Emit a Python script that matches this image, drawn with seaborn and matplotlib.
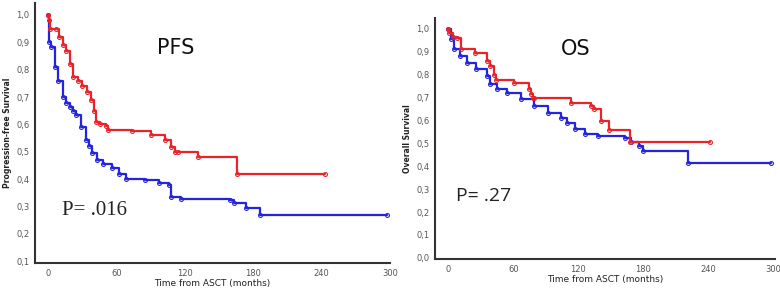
import numpy as np
import pandas as pd
import matplotlib
matplotlib.use("Agg")
import matplotlib.pyplot as plt
import seaborn as sns

# PFS curves (months, survival)
pfs_red_t = [0, 1, 2, 7, 10, 13, 16, 19, 22, 26, 30, 34, 38, 40, 42, 46, 51, 53, 74, 90, 103, 108, 111, 114, 132, 166, 243]
pfs_red_s = [1.0, 0.98, 0.95, 0.95, 0.92, 0.89, 0.87, 0.82, 0.775, 0.76, 0.74, 0.72, 0.69, 0.65, 0.61, 0.60, 0.594, 0.58, 0.575, 0.56, 0.543, 0.518, 0.50, 0.50, 0.482, 0.418, 0.418]
pfs_blue_t = [0, 1, 3, 6, 9, 13, 16, 19, 22, 25, 29, 33, 36, 39, 43, 48, 56, 62, 68, 85, 97, 106, 108, 117, 160, 163, 174, 186, 297]
pfs_blue_s = [1.0, 0.9, 0.884, 0.81, 0.76, 0.70, 0.68, 0.665, 0.65, 0.634, 0.59, 0.543, 0.52, 0.494, 0.47, 0.457, 0.439, 0.42, 0.402, 0.396, 0.387, 0.378, 0.335, 0.326, 0.325, 0.311, 0.293, 0.268, 0.268]

# OS curves (months, survival)
os_red_t = [0, 1, 4, 8, 12, 25, 36, 39, 42, 44, 61, 75, 76, 78, 79, 113, 132, 135, 141, 148, 168, 242]
os_red_s = [1.0, 0.98, 0.965, 0.96, 0.91, 0.895, 0.86, 0.837, 0.80, 0.777, 0.765, 0.736, 0.714, 0.70, 0.70, 0.678, 0.665, 0.649, 0.598, 0.56, 0.507, 0.507]
os_blue_t = [0, 3, 5, 11, 17, 26, 36, 39, 45, 54, 67, 79, 92, 104, 110, 117, 126, 138, 163, 169, 176, 180, 221, 298]
os_blue_s = [1.0, 0.954, 0.91, 0.88, 0.852, 0.823, 0.794, 0.758, 0.736, 0.721, 0.692, 0.663, 0.634, 0.612, 0.591, 0.562, 0.54, 0.53, 0.525, 0.504, 0.489, 0.467, 0.414, 0.414]

x_ticks = [0, 60, 120, 180, 240, 300]
red = "#e8242a"
blue = "#2424dc"


def make_df(t_red, s_red, t_blue, s_blue):
    return pd.concat([
        pd.DataFrame({"t": t_red, "s": s_red, "grp": "red"}),
        pd.DataFrame({"t": t_blue, "s": s_blue, "grp": "blue"}),
    ])


def draw_panel(ax, df, ylabel, yticks, ylim, xlim, title, title_x, title_y, ptext, px, py, pfont, psize):
    for grp, col in [("blue", blue), ("red", red)]:
        sub = df[df["grp"] == grp]
        sns.lineplot(data=sub, x="t", y="s", ax=ax, color=col, drawstyle="steps-post",
                     marker="o", markersize=2.8, markerfacecolor="none", markeredgecolor=col,
                     markeredgewidth=0.8, linewidth=1.6, legend=False)
    ax.set_xlim(*xlim)
    ax.set_ylim(*ylim)
    ax.set_xticks(x_ticks)
    ax.set_xticklabels([str(v) for v in x_ticks])
    ax.set_yticks(yticks)
    ax.set_yticklabels([f"{v:.1f}".replace(".", ",") for v in yticks])
    ax.tick_params(labelsize=6, colors="#555555", length=2, width=0.8, pad=2)
    ax.set_xlabel("Time from ASCT (months)", fontsize=6.5, color="#222222", labelpad=1)
    ax.set_ylabel(ylabel, fontsize=5.5, color="#222222", fontweight="bold", labelpad=3)
    for sp in ["top", "right"]:
        ax.spines[sp].set_visible(False)
    for sp in ["left", "bottom"]:
        ax.spines[sp].set_color("#333333")
        ax.spines[sp].set_linewidth(1.5)
    ax.grid(False)
    ax.text(title_x, title_y, title, fontsize=15, ha="center", va="center", color="#111111")
    ax.text(px, py, ptext, fontsize=psize, ha="left", va="center", color="#222222", family=pfont)


sns.set_style("white")
fig = plt.figure(figsize=(7.8, 2.93), dpi=100)
ax1 = fig.add_axes([0.045, 0.102, 0.455, 0.888])
ax2 = fig.add_axes([0.558, 0.116, 0.436, 0.823])

draw_panel(ax1, make_df(pfs_red_t, pfs_red_s, pfs_blue_t, pfs_blue_s),
           "Progression-free Survival", np.round(np.arange(0.1, 1.01, 0.1), 1),
           (0.093, 1.044), (-11.3, 300), "PFS", 112, 0.88, "P= .016", 12, 0.285, "Liberation Serif", 15)
draw_panel(ax2, make_df(os_red_t, os_red_s, os_blue_t, os_blue_s),
           "Overall Survival", np.round(np.arange(0.0, 1.01, 0.1), 1),
           (-0.005, 1.048), (-12, 302), "OS", 118, 0.91, "P= .27", 7, 0.27, "Open Sans", 14)

fig.savefig("out.png", dpi=100)
